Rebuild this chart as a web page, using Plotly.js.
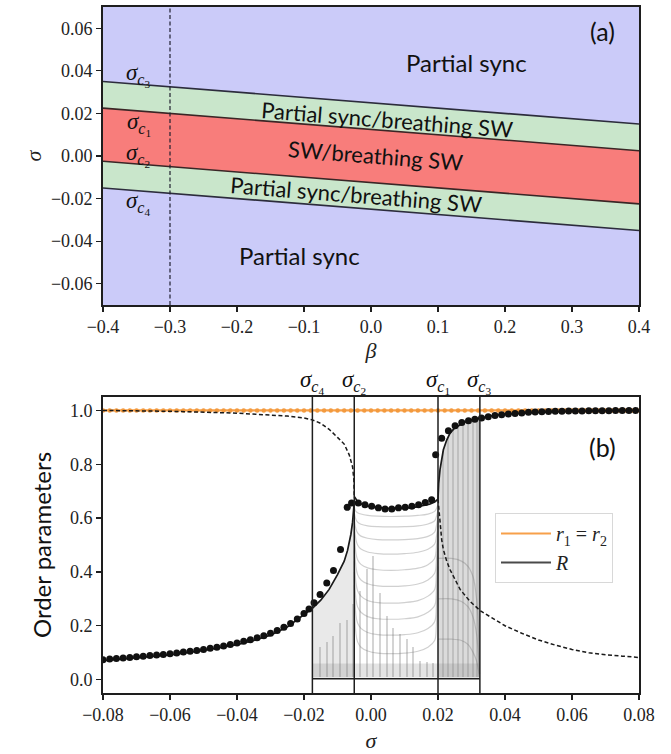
<!DOCTYPE html>
<html>
<head>
<meta charset="utf-8">
<script src="https://cdn.plot.ly/plotly-3.0.1.min.js"></script>
<style>html,body{margin:0;padding:0;background:#fff;}#plot{width:671px;height:754px;}</style>
</head>
<body>
<div id="plot"></div>
<script>
// ---------- panel (a) data ----------
const betaEnds = [-0.4, 0.4];
const sigmaC3Line = [0.035, 0.015];
const sigmaC1Line = [0.0225, 0.0025];
const sigmaC2Line = [-0.0025, -0.0225];
const sigmaC4Line = [-0.015, -0.035];
const betaCut = -0.3;

// ---------- panel (b) data ----------
const sigmaCrit = [-0.0175, -0.005, 0.02, 0.0325];   // c4, c2, c1, c3
const sigmaCritLabels = ["4", "2", "1", "3"];

// r1 = r2 (orange)
const r12Sigma = [-0.080,-0.078,-0.076,-0.074,-0.072,-0.070,-0.068,-0.066,-0.064,-0.062,-0.060,-0.058,-0.056,-0.054,-0.052,-0.050,-0.048,-0.046,-0.044,-0.042,-0.040,-0.038,-0.036,-0.034,-0.032,-0.030,-0.028,-0.026,-0.024,-0.022,-0.020,-0.018,-0.016,-0.014,-0.012,-0.010,-0.008,-0.006,-0.004,-0.002,0.000,0.002,0.004,0.006,0.008,0.010,0.012,0.014,0.016,0.018,0.020,0.022,0.024,0.026,0.028,0.030,0.032,0.034,0.036,0.038,0.040,0.042,0.044,0.046,0.048,0.050,0.052,0.054,0.056,0.058,0.060,0.062,0.064,0.066,0.068,0.070,0.072,0.074,0.076,0.078,0.080];
const r12Values = [1,1,1,1,1,1,1,1,1,1,1,1,1,1,1,1,1,1,1,1,1,1,1,1,1,1,1,1,1,1,1,1,1,1,1,1,1,1,1,1,1,1,1,1,1,1,1,1,1,1,1,1,1,1,1,1,1,1,1,1,1,1,1,1,1,1,1,1,1,1,1,1,1,1,1,1,1,1,1,1,1];

// simulated R (black dots)
const dotSigma = [-0.080,-0.078,-0.076,-0.074,-0.072,-0.070,-0.068,-0.066,-0.064,-0.062,-0.060,-0.058,-0.056,-0.054,-0.052,-0.050,-0.048,-0.046,-0.044,-0.042,-0.040,-0.038,-0.036,-0.034,-0.032,-0.030,-0.028,-0.026,-0.024,-0.022,-0.020,-0.0185,-0.0170,-0.0152,-0.0132,-0.0112,-0.0091,-0.0071,-0.0058,-0.0038,-0.0018,0.0002,0.0022,0.0042,0.0062,0.0082,0.0102,0.0122,0.0142,0.0162,0.0181,0.0193,0.0211,0.0231,0.0251,0.0271,0.0291,0.0310,0.0330,0.0350,0.0370,0.0390,0.0410,0.0430,0.0450,0.0470,0.0490,0.0510,0.0530,0.0550,0.0570,0.0590,0.0610,0.0630,0.0650,0.0670,0.0690,0.0710,0.0730,0.0750,0.0770,0.0790];
const dotR = [0.074,0.076,0.078,0.080,0.082,0.085,0.087,0.089,0.091,0.093,0.096,0.099,0.102,0.105,0.108,0.112,0.116,0.120,0.125,0.130,0.136,0.142,0.148,0.155,0.163,0.172,0.182,0.194,0.208,0.225,0.245,0.262,0.285,0.316,0.359,0.405,0.483,0.640,0.656,0.656,0.650,0.644,0.638,0.634,0.634,0.638,0.640,0.644,0.650,0.658,0.668,0.835,0.897,0.925,0.943,0.955,0.962,0.967,0.972,0.977,0.981,0.984,0.987,0.989,0.991,0.993,0.994,0.995,0.996,0.997,0.997,0.998,0.998,0.998,0.999,0.999,0.999,0.999,1.0,1.0,1.0,1.0];

// theoretical R branches
const lowStableSigma = [-0.08,-0.07,-0.06,-0.05,-0.04,-0.035,-0.03,-0.025,-0.02,-0.0175,-0.015,-0.0125,-0.01,-0.008,-0.007,-0.006,-0.0055,-0.005];
const lowStableR     = [0.07,0.08,0.092,0.108,0.13,0.145,0.165,0.195,0.24,0.265,0.295,0.335,0.39,0.44,0.48,0.54,0.585,0.66];
const highUnstableSigma = [-0.08,-0.06,-0.04,-0.03,-0.025,-0.02,-0.0175,-0.015,-0.0125,-0.01,-0.008,-0.0065,-0.0055,-0.0051,-0.005];
const highUnstableR     = [1.0,0.997,0.99,0.984,0.979,0.972,0.965,0.952,0.93,0.9,0.875,0.835,0.79,0.74,0.68];
const middleSigma = [-0.005,-0.004,-0.003,-0.002,0,0.0025,0.005,0.0075,0.01,0.0125,0.015,0.0175,0.019,0.02];
const middleR     = [0.68,0.662,0.653,0.648,0.642,0.638,0.636,0.635,0.636,0.639,0.645,0.652,0.66,0.67];
const highStableSigma = [0.02,0.0202,0.0206,0.0211,0.0216,0.0226,0.0236,0.025,0.0266,0.028,0.030,0.0327,0.036,0.04,0.05,0.06,0.07,0.08];
const highStableR     = [0.67,0.73,0.78,0.825,0.854,0.89,0.916,0.935,0.947,0.956,0.965,0.972,0.98,0.986,0.993,0.997,0.999,1.0];
const lowUnstableSigma = [0.02,0.0203,0.0206,0.0211,0.0216,0.0226,0.0236,0.025,0.0266,0.0296,0.0327,0.036,0.04,0.045,0.05,0.055,0.06,0.065,0.07,0.075,0.08];
const lowUnstableR     = [0.67,0.62,0.569,0.52,0.483,0.44,0.408,0.372,0.335,0.29,0.255,0.23,0.2,0.172,0.147,0.128,0.112,0.1,0.092,0.087,0.082];

// grey time traces (breathing states)
const arcSigma = [-0.005,-0.0045,-0.004,-0.003,-0.001,0.002,0.006,0.010,0.014,0.017,0.019,0.0195,0.02];
const arcR = [
  [0.64,0.625,0.62,0.615,0.61,0.607,0.606,0.607,0.61,0.615,0.625,0.635,0.65],
  [0.62,0.595,0.585,0.577,0.571,0.568,0.567,0.568,0.571,0.578,0.59,0.605,0.63],
  [0.6,0.56,0.545,0.533,0.525,0.52,0.519,0.52,0.524,0.532,0.548,0.57,0.61],
  [0.58,0.52,0.5,0.485,0.474,0.468,0.466,0.468,0.473,0.484,0.503,0.53,0.59],
  [0.55,0.47,0.445,0.428,0.415,0.408,0.406,0.408,0.414,0.427,0.45,0.49,0.57],
  [0.52,0.42,0.39,0.37,0.356,0.348,0.346,0.348,0.355,0.37,0.395,0.44,0.55],
  [0.48,0.36,0.33,0.31,0.294,0.286,0.284,0.286,0.293,0.31,0.335,0.39,0.52],
  [0.44,0.3,0.27,0.25,0.234,0.226,0.224,0.226,0.233,0.25,0.275,0.33,0.49],
  [0.4,0.24,0.21,0.19,0.175,0.167,0.165,0.167,0.174,0.19,0.215,0.27,0.46],
  [0.35,0.17,0.14,0.12,0.106,0.098,0.096,0.098,0.105,0.12,0.145,0.2,0.42]
];
const greyLeftSigma = [-0.0175,-0.015,-0.0125,-0.01,-0.008,-0.007,-0.006,-0.0055,-0.005];
const greyLeftTop   = [0.265,0.295,0.335,0.39,0.44,0.48,0.54,0.585,0.64];
const greyRightSigma = [0.02,0.0202,0.0206,0.0211,0.0216,0.0226,0.0236,0.025,0.0266,0.028,0.030,0.0325];
const greyRightTop   = [0.67,0.73,0.78,0.825,0.854,0.89,0.916,0.935,0.947,0.956,0.965,0.97];
const greyFloor = 0.008;
const stripeSigma  = [0.0215,0.023,0.0245,0.026,0.0275,0.029,0.0305,0.0318];
const stripeHeight = [0.85,0.9,0.93,0.94,0.95,0.96,0.965,0.968];
const spikeSigma  = [-0.0152,-0.0132,-0.0112,-0.0093,-0.0073,-0.0053,-0.0033,-0.0013,0.0007,0.0027,0.0047,0.0067,0.0087,0.0107,0.0126,0.0146,0.0166,0.0186];
const spikeHeight = [0.12,0.14,0.16,0.21,0.22,0.28,0.33,0.41,0.46,0.32,0.235,0.19,0.17,0.15,0.12,0.07,0.065,0.06];
const bandSigma = [-0.0175,0.0325];
const bandTop = [0.06,0.06];
const cornerSigma = [0.02,0.024,0.027,0.029,0.0305,0.0315,0.032,0.0324];
const cornerR = [
  [0.45,0.45,0.44,0.42,0.38,0.3,0.2,0.02],
  [0.3,0.3,0.29,0.27,0.23,0.17,0.1,0.02],
  [0.15,0.15,0.145,0.13,0.1,0.07,0.04,0.01]
];

// ---------- styles ----------
const serif = "Liberation Serif, DejaVu Serif, serif";
const sans = "Lato, Noto Sans, sans-serif";
const frame = "#1e1e1e";
const bandLine = "#2c2c3c";

const traces = [];
// panel (a)
traces.push({x: betaEnds, y: sigmaC3Line, xaxis:"x", yaxis:"y", mode:"lines", line:{width:0}, hoverinfo:"skip", showlegend:false});
traces.push({x: betaEnds, y: sigmaC4Line, xaxis:"x", yaxis:"y", mode:"lines", line:{width:0}, fill:"tonexty", fillcolor:"#c9e6cb", hoverinfo:"skip", showlegend:false});
traces.push({x: betaEnds, y: sigmaC1Line, xaxis:"x", yaxis:"y", mode:"lines", line:{width:0}, hoverinfo:"skip", showlegend:false});
traces.push({x: betaEnds, y: sigmaC2Line, xaxis:"x", yaxis:"y", mode:"lines", line:{width:0}, fill:"tonexty", fillcolor:"#f87d7b", hoverinfo:"skip", showlegend:false});
[sigmaC3Line, sigmaC1Line, sigmaC2Line, sigmaC4Line].forEach(function(s, i){
  traces.push({x: betaEnds, y: s, xaxis:"x", yaxis:"y", mode:"lines", line:{color: (i===1||i===2)?"#3a2626":bandLine, width:1.6}, hoverinfo:"skip", showlegend:false});
});

// panel (b) grey texture
traces.push({x: bandSigma, y: [greyFloor, greyFloor], xaxis:"x2", yaxis:"y2", mode:"lines", line:{width:0}, showlegend:false, hoverinfo:"skip"});
traces.push({x: bandSigma, y: bandTop, xaxis:"x2", yaxis:"y2", mode:"lines", line:{width:0}, fill:"tonexty", fillcolor:"rgba(120,120,120,0.2)", showlegend:false, hoverinfo:"skip"});
traces.push({x: greyLeftSigma.concat(greyLeftSigma.slice().reverse()), y: greyLeftTop.concat(greyLeftSigma.map(function(){return greyFloor;})), xaxis:"x2", yaxis:"y2", mode:"lines", line:{width:0}, fill:"toself", fillcolor:"rgba(120,120,120,0.16)", showlegend:false, hoverinfo:"skip"});
traces.push({x: greyRightSigma.concat(greyRightSigma.slice().reverse()), y: greyRightTop.concat(greyRightSigma.map(function(){return greyFloor;})), xaxis:"x2", yaxis:"y2", mode:"lines", line:{width:0}, fill:"toself", fillcolor:"rgba(110,110,110,0.25)", showlegend:false, hoverinfo:"skip"});
traces.push({type:"bar", x: stripeSigma, y: stripeHeight.map(function(h){return h - greyFloor;}), base: greyFloor, width: 0.0007, xaxis:"x2", yaxis:"y2", marker:{color:"rgba(90,90,90,0.22)", line:{width:0}}, showlegend:false, hoverinfo:"skip"});
traces.push({type:"bar", x: spikeSigma, y: spikeHeight.map(function(h){return h - greyFloor;}), base: greyFloor, width: 0.0006, xaxis:"x2", yaxis:"y2", marker:{color:"rgba(100,100,100,0.28)", line:{width:0}}, showlegend:false, hoverinfo:"skip"});
arcR.forEach(function(a){
  traces.push({x: arcSigma, y: a, xaxis:"x2", yaxis:"y2", mode:"lines", line:{color:"rgba(110,110,110,0.32)", width:1.2, shape:"spline"}, showlegend:false, hoverinfo:"skip"});
});
cornerR.forEach(function(a){
  traces.push({x: cornerSigma, y: a, xaxis:"x2", yaxis:"y2", mode:"lines", line:{color:"rgba(110,110,110,0.32)", width:1.2, shape:"spline"}, showlegend:false, hoverinfo:"skip"});
});

// orange r1=r2
traces.push({x: r12Sigma, y: r12Values, xaxis:"x2", yaxis:"y2", mode:"lines+markers", line:{color:"#f7a04a", width:2.2}, marker:{color:"#f39a3e", size:4.5}, showlegend:false, hoverinfo:"skip"});

// theoretical R
const solid = {color:"#1a1a1a", width:1.7};
const dashed = {color:"#1a1a1a", width:1.5, dash:"4px,2.5px"};
traces.push({x: lowStableSigma, y: lowStableR, xaxis:"x2", yaxis:"y2", mode:"lines", line:solid, showlegend:false, hoverinfo:"skip"});
traces.push({x: highUnstableSigma, y: highUnstableR, xaxis:"x2", yaxis:"y2", mode:"lines", line:dashed, showlegend:false, hoverinfo:"skip"});
traces.push({x: middleSigma, y: middleR, xaxis:"x2", yaxis:"y2", mode:"lines", line:solid, showlegend:false, hoverinfo:"skip"});
traces.push({x: highStableSigma, y: highStableR, xaxis:"x2", yaxis:"y2", mode:"lines", line:solid, showlegend:false, hoverinfo:"skip"});
traces.push({x: lowUnstableSigma, y: lowUnstableR, xaxis:"x2", yaxis:"y2", mode:"lines", line:dashed, showlegend:false, hoverinfo:"skip"});

// dots
traces.push({x: dotSigma, y: dotR, xaxis:"x2", yaxis:"y2", mode:"markers", marker:{color:"#111", size:7}, showlegend:false, hoverinfo:"skip"});

// legend entries
traces.push({x:[null], y:[null], xaxis:"x2", yaxis:"y2", mode:"lines", line:{color:"#f7a04a", width:2.2}, name:"<i>r</i><sub>1</sub> = <i>r</i><sub>2</sub>", showlegend:true, legendrank:1});
traces.push({x:[null], y:[null], xaxis:"x2", yaxis:"y2", mode:"lines", line:{color:"#4a4a4a", width:2.2}, name:"<i>R</i>", showlegend:true, legendrank:2});

const axisCommon = {
  showline:true, mirror:true, linecolor:frame, linewidth:1.8,
  ticks:"outside", ticklen:5, tickwidth:1.2, tickcolor:frame,
  showgrid:false, zeroline:false,
  tickfont:{family:serif, size:18, color:"#222"}
};

const shapes = [
  {type:"line", xref:"x", yref:"y domain", x0:betaCut, x1:betaCut, y0:0, y1:1, line:{color:"#202030", width:1.2, dash:"4px,2.5px"}}
];
sigmaCrit.forEach(function(s){
  shapes.push({type:"line", xref:"x2", yref:"y2 domain", x0:s, x1:s, y0:0, y1:1, line:{color:"#1e1e1e", width:1.5}});
});
shapes.push({type:"line", xref:"x2", yref:"y2", x0:sigmaCrit[0], x1:sigmaCrit[3], y0:0.003, y1:0.003, line:{color:"#1e1e1e", width:1.5}});

const annotations = [];
function ann(o){ annotations.push(Object.assign({showarrow:false}, o)); }
function critLabel(d){ return "<i>σ</i><sub><i>c</i><sub>" + d + "</sub></sub>"; }
ann({xref:"x", yref:"y", x:0.142, y:0.0440, text:"Partial sync", font:{family:sans, size:24, color:"#111"}});
ann({xref:"x", yref:"y", x:0.024, y:0.0172, text:"Partial sync/breathing SW", font:{family:sans, size:22, color:"#111"}, textangle:4.5});
ann({xref:"x", yref:"y", x:0.008, y:0.0004, text:"SW/breathing SW", font:{family:sans, size:22, color:"#111"}, textangle:4.5});
ann({xref:"x", yref:"y", x:-0.022, y:-0.018, text:"Partial sync/breathing SW", font:{family:sans, size:22, color:"#111"}, textangle:4.5});
ann({xref:"x", yref:"y", x:-0.107, y:-0.0468, text:"Partial sync", font:{family:sans, size:24, color:"#111"}});
ann({xref:"x", yref:"y", x:0.345, y:0.0586, text:"(a)", font:{family:sans, size:25, color:"#111"}});
const aLabels = [["3",0.0380],["1",0.0150],["2",0.0003],["4",-0.0222]];
aLabels.forEach(function(p){
  ann({xref:"x", yref:"y", x:-0.347, y:p[1], text:critLabel(p[0]), font:{family:serif, size:23, color:"#111"}});
});
ann({xref:"x2", yref:"y2", x:0.069, y:0.865, text:"(b)", font:{family:sans, size:25, color:"#111"}});
sigmaCrit.forEach(function(s, i){
  ann({xref:"x2", yref:"paper", x:s, y:1-382/754, yanchor:"middle", text:critLabel(sigmaCritLabels[i]), font:{family:serif, size:23, color:"#111"}});
});

const layout = {
  width:671, height:754,
  margin:{l:0, r:0, t:0, b:0},
  paper_bgcolor:"#fff",
  showlegend:true,
  legend:{x:495/671, y:1-513/754, xanchor:"left", yanchor:"top", traceorder:"normal", bgcolor:"rgba(255,255,255,0.85)", bordercolor:"#d8d8d8", borderwidth:1, font:{family:serif, size:20, color:"#222"}, itemwidth:50, tracegroupgap:6},
  xaxis: Object.assign({}, axisCommon, {domain:[103/671, 639/671], range:[-0.4,0.4], dtick:0.1, tick0:0, tickformat:".1f",
    title:{text:"<i>β</i>", font:{family:serif, size:22, color:"#222"}, standoff:6}}),
  yaxis: Object.assign({}, axisCommon, {domain:[1-305/754, 1-7/754], range:[-0.07,0.07], dtick:0.02, tick0:0, tickformat:".2f",
    title:{text:"<i>σ</i>", font:{family:serif, size:22, color:"#222"}, standoff:3}}),
  xaxis2: Object.assign({}, axisCommon, {domain:[103/671, 639/671], range:[-0.08,0.08], dtick:0.02, tick0:0, tickformat:".2f", anchor:"y2",
    title:{text:"<i>σ</i>", font:{family:serif, size:22, color:"#222"}, standoff:8}}),
  yaxis2: Object.assign({}, axisCommon, {domain:[1-693/754, 1-397/754], range:[-0.05,1.05], dtick:0.2, tick0:0, tickformat:".1f", anchor:"x2",
    title:{text:"Order parameters", font:{family:sans, size:24, color:"#111"}, standoff:12}}),
  plot_bgcolor:"rgba(0,0,0,0)",
  shapes: shapes.concat([
    {type:"rect", xref:"x domain", yref:"y domain", x0:0, x1:1, y0:0, y1:1, fillcolor:"#cbcbf9", line:{width:0}, layer:"below"}
  ]),
  annotations: annotations,
  barmode:"overlay",
  bargap:0
};

Plotly.newPlot("plot", traces, layout, {displayModeBar:false, staticPlot:true});
</script>
</body>
</html>
